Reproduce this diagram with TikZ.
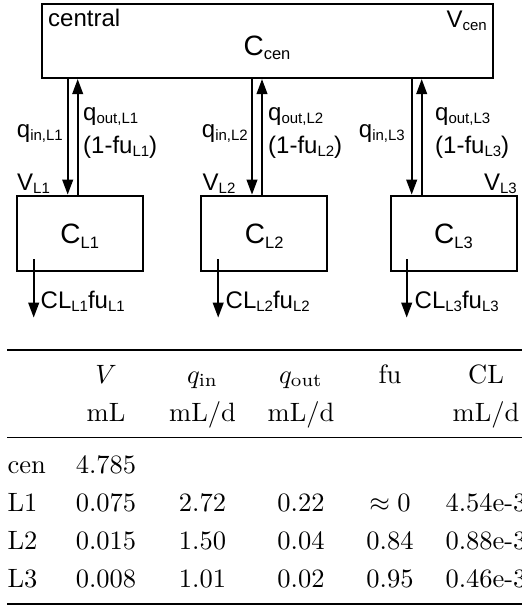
\documentclass[tikz,border=0pt]{standalone}
\usepackage{fontspec}
\usetikzlibrary{arrows.meta}
\newfontfamily\dgfont{Liberation Sans}
% lowered, smaller text for indices in the compartment sketch
\newcommand\dsub[1]{\raisebox{-3.5pt}{\fontsize{15}{15}\selectfont #1}}
\newcommand\csub[1]{\raisebox{-4.5pt}{\fontsize{16.5}{16.5}\selectfont #1}}
\tikzset{
  box/.style={draw, line width=2pt, inner sep=0},
  lbl/.style={inner sep=0, font=\dgfont\fontsize{24}{28}\selectfont},
  conc/.style={inner sep=0, anchor=base, font=\dgfont\fontsize{28}{32}\selectfont},
  flow/.style={line width=2.2pt, -{Triangle[length=15pt,width=10.5pt]}},
  cell/.style={inner sep=0, anchor=base, scale=2.65},
  heavyrule/.style={line width=2.1pt},
  lightrule/.style={line width=1.3pt},
}
\begin{document}
\begin{tikzpicture}[x=1pt,y=-1pt]
\useasboundingbox (0,0) rectangle (522,608);
\clip (0,0) rectangle (522,608);

% ---------------- compartments ----------------
\node[box, minimum width=451pt, minimum height=74pt] (cen) at (267.5,41) {};
\node[box, minimum width=126pt, minimum height=75pt] (L1) at (79.7,233.2) {};
\node[box, minimum width=126pt, minimum height=75pt] (L2) at (264.2,233.2) {};
\node[box, minimum width=126pt, minimum height=75pt] (L3) at (453.5,233.2) {};

\node[lbl, anchor=base west] (tcentral) at (48,26) {central};
\node[conc] (tCcen) at (267,55) {C\csub{cen}};
\node[lbl, anchor=base east] (tVcen) at (487,27) {V\dsub{cen}};

\node[conc] (tC1) at (79.7,243.5) {C\csub{L1}};
\node[conc] (tC2) at (264.2,243.5) {C\csub{L2}};
\node[conc] (tC3) at (453.5,243.5) {C\csub{L3}};

% ---------------- exchange flows ----------------
\draw[flow] ([xshift=-12pt]L1.north |- cen.south) -- ([xshift=-12pt]L1.north);
\draw[flow] ([xshift=-2pt]L1.north) -- ([xshift=-2pt]L1.north |- cen.south);
\draw[flow] ([xshift=-12.2pt]L2.north |- cen.south) -- ([xshift=-12.2pt]L2.north);
\draw[flow] ([xshift=-2.2pt]L2.north) -- ([xshift=-2.2pt]L2.north |- cen.south);
\draw[flow] ([xshift=-41.8pt]L3.north |- cen.south) -- ([xshift=-41.8pt]L3.north);
\draw[flow] ([xshift=-31.8pt]L3.north) -- ([xshift=-31.8pt]L3.north |- cen.south);

\node[lbl, anchor=base east] (qin1) at (63,137) {q\dsub{in,L1}};
\node[lbl, anchor=base west] (qout1) at (83,120) {q\dsub{out,L1}};
\node[lbl, anchor=base west] (fu1) at (83,153) {(1-fu\dsub{L1})};
\node[lbl, anchor=base east] (qin2) at (248,137) {q\dsub{in,L2}};
\node[lbl, anchor=base west] (qout2) at (268,120) {q\dsub{out,L2}};
\node[lbl, anchor=base west] (fu2) at (268,153) {(1-fu\dsub{L2})};
\node[lbl, anchor=base east] (qin3) at (405,137) {q\dsub{in,L3}};
\node[lbl, anchor=base west] (qout3) at (435,120) {q\dsub{out,L3}};
\node[lbl, anchor=base west] (fu3) at (435,153) {(1-fu\dsub{L3})};

\node[lbl, anchor=base west] (V1) at (17,190) {V\dsub{L1}};
\node[lbl, anchor=base west] (V2) at (202.5,190) {V\dsub{L2}};
\node[lbl, anchor=base east] (V3) at (517,190) {V\dsub{L3}};

% ---------------- clearance ----------------
\coordinate (o1) at ([xshift=-46pt,yshift=-46pt]L1.south);
\coordinate (o2) at ([xshift=-46pt,yshift=-46pt]L2.south);
\coordinate (o3) at ([xshift=-46.8pt,yshift=-46pt]L3.south);
\draw[flow] ([yshift=12.5pt]L1.south -| o1) -- (o1);
\draw[flow] ([yshift=12.5pt]L2.south -| o2) -- (o2);
\draw[flow] ([yshift=12.5pt]L3.south -| o3) -- (o3);

\node[lbl, anchor=base west] (cl1) at (40.5,308) {CL\dsub{L1}fu\dsub{L1}};
\node[lbl, anchor=base west] (cl2) at (225.5,308) {CL\dsub{L2}fu\dsub{L2}};
\node[lbl, anchor=base west] (cl3) at (414.5,308) {CL\dsub{L3}fu\dsub{L3}};

% ---------------- parameter table ----------------
\draw[heavyrule] (7,350) -- (540,350);
\draw[lightrule] (7,437.5) -- (540,437.5);
\draw[heavyrule] (7,604) -- (540,604);

\node[cell] (hV)    at (106,383)   {$V$};
\node[cell] (hqin)  at (202.5,383) {$q_{\mathrm{in}}$};
\node[cell] (hqout) at (301,383)   {$q_{\mathrm{out}}$};
\node[cell] (hfu)   at (390,383)   {fu};
\node[cell] (hCL)   at (486,383)   {CL};
\node[cell] (uV)    at (106,421)   {mL};
\node[cell] (uqin)  at (202.5,421) {mL/d};
\node[cell] (uqout) at (301,421)   {mL/d};
\node[cell] (uCL)   at (486,421)   {mL/d};

\node[cell, anchor=base west] (rcen) at (7,473) {cen};
\node[cell, anchor=base west] (rL1)  at (7,511) {L1};
\node[cell, anchor=base west] (rL2)  at (7,549) {L2};
\node[cell, anchor=base west] (rL3)  at (7,587) {L3};

\node[cell] (Vcen) at (106,473) {4.785};
\node[cell] (V1v)  at (106,511) {0.075};
\node[cell] (V2v)  at (106,549) {0.015};
\node[cell] (V3v)  at (106,587) {0.008};

\node[cell] (qi1) at (202.5,511) {2.72};
\node[cell] (qi2) at (202.5,549) {1.50};
\node[cell] (qi3) at (202.5,587) {1.01};

\node[cell] (qo1) at (301,511) {0.22};
\node[cell] (qo2) at (301,549) {0.04};
\node[cell] (qo3) at (301,587) {0.02};

\node[cell] (f1) at (390,511) {$\approx 0$};
\node[cell] (f2) at (390,549) {0.84};
\node[cell] (f3) at (390,587) {0.95};

\node[cell] (c1) at (486,511) {4.54e-3};
\node[cell] (c2) at (486,549) {0.88e-3};
\node[cell] (c3) at (486,587) {0.46e-3};
\end{tikzpicture}
\end{document}
